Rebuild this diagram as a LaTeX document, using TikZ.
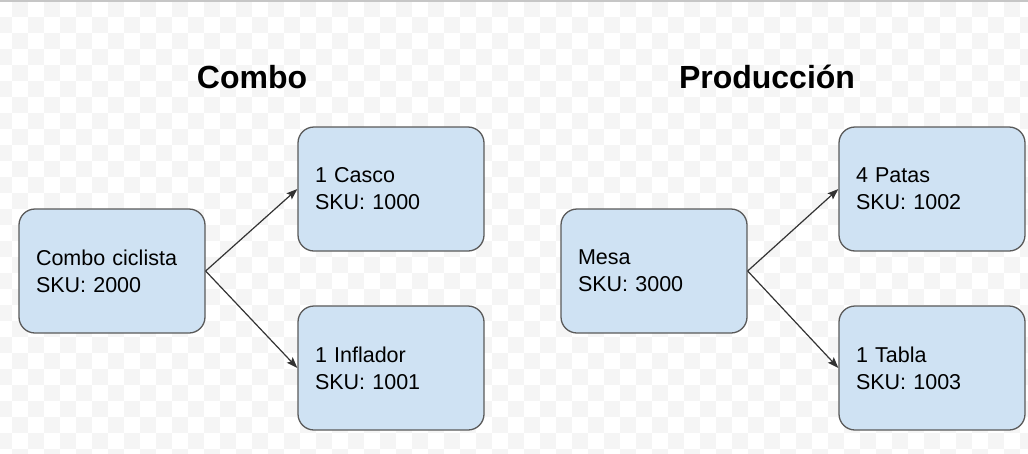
\documentclass[tikz,border=0pt]{standalone}
\usepackage{fontspec}
\setmainfont{Liberation Sans}
\usetikzlibrary{arrows.meta}
\definecolor{boxfill}{HTML}{CFE2F3}
\definecolor{boxline}{HTML}{5A5A5A}
\definecolor{chkgrey}{HTML}{F5F5F5}
\newcommand{\itemfont}{\fontsize{21.5}{27}\selectfont}
\tikzset{
	item/.style={draw=boxline, fill=boxfill, line width=1.3pt, rounded corners=16pt,
		text width=152pt, inner xsep=17pt, inner ysep=0pt, minimum height=124pt,
		align=left, font=\itemfont},
	title/.style={anchor=base, font=\fontsize{32}{38}\selectfont\bfseries},
	link/.style={draw=black!80, line width=1.2pt, -{Stealth[length=11pt,width=8pt,inset=2pt]}}
}

\begin{document}
\begin{tikzpicture}[x=1pt,y=-1pt]
	\useasboundingbox (0,0) rectangle (1028,453);
	% background checks
	\begin{scope}
	\clip (0,0) rectangle (1028,453);
	\fill[white] (0,0) rectangle (1028,453);
	\foreach \i in {0,...,64}
		\foreach \j in {0,...,28}{
			\pgfmathtruncatemacro{\odd}{mod(\i+\j,2)}
			\ifnum\odd=1 \fill[chkgrey] (16*\i-4,16*\j+1) rectangle ++(16,16);\fi
		}
	\end{scope}
	\draw[gray!45, line width=1.5pt] (0,0.75) -- (1028,0.75);
	% titles
	\node[title] (tcombo) at (252,88){Combo};
	\node[title] (tprod) at (767,88){Producción};
	% combo
	\node[item] (combo) at (112,271){Combo ciclista\\SKU: 2000};
	\node[item] (casco) at (391,189){1 Casco\\SKU: 1000};
	\node[item] (inflador) at (391,368){1 Inflador\\SKU: 1001};
	% produccion
	\node[item] (mesa) at (654,271){Mesa\\SKU: 3000};
	\node[item] (patas) at (932,189){4 Patas\\SKU: 1002};
	\node[item] (tabla) at (932,368){1 Tabla\\SKU: 1003};
	\draw[link] (combo.east) -- (casco.west);
	\draw[link] (combo.east) -- (inflador.west);
	\draw[link] (mesa.east) -- (patas.west);
	\draw[link] (mesa.east) -- (tabla.west);
\end{tikzpicture}
\end{document}
